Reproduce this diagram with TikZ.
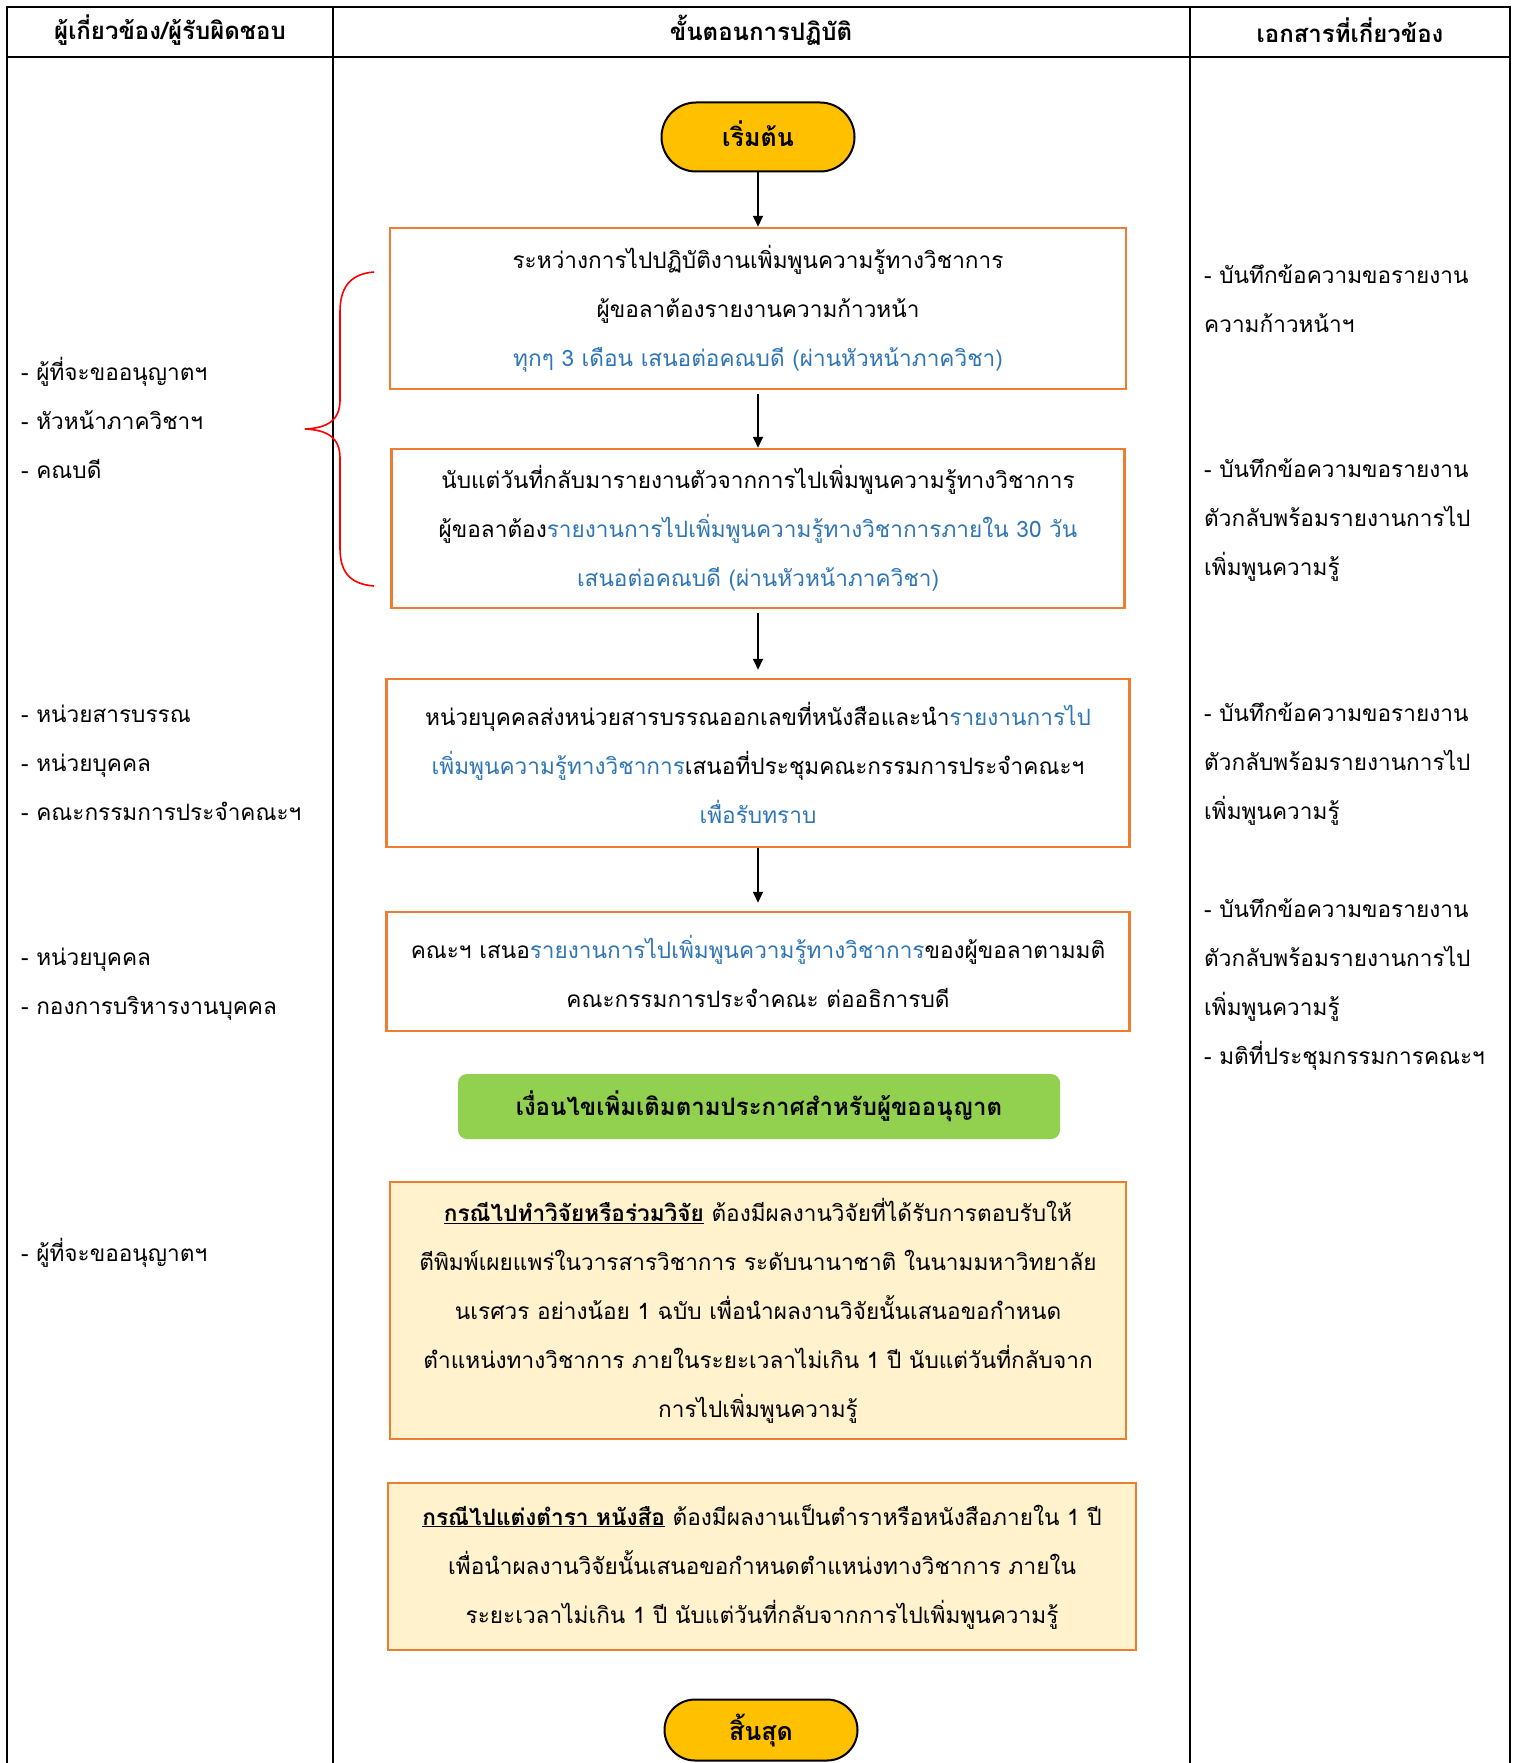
\documentclass[tikz,border=0pt]{standalone}
\usepackage{fontspec}
\newfontfamily\thai[Script=Thai]{Loma}
\usetikzlibrary{arrows.meta,shapes.misc}
\definecolor{orng}{HTML}{ED7D31}
\definecolor{cream}{HTML}{FFF2CC}
\definecolor{grn}{HTML}{92D050}
\definecolor{gold}{HTML}{FFC000}
\definecolor{blu}{HTML}{2E75B6}
\newcommand{\bl}[1]{{\color{blu}#1}}
\begin{document}
\begin{tikzpicture}[x=1pt,y=-1pt,
  txt/.style={font=\thai\fontsize{22.6}{49}\selectfont},
  hdr/.style={font=\thai\bfseries\fontsize{24}{30}\selectfont},
  stepbox/.style={draw=orng, line width=2.5pt, align=center, inner sep=0pt, txt},
  notebox/.style={stepbox, fill=cream},
  term/.style={rounded rectangle, draw=black, line width=2pt, fill=gold, inner sep=0pt, font=\thai\bfseries\fontsize{25}{30}\selectfont},
  side/.style={txt, align=left, anchor=west, inner sep=0pt},
  arr/.style={line width=1.8pt, -{Triangle[length=11pt,width=10pt]}},
  grid/.style={line width=2.4pt, black}]
\useasboundingbox (0,0) rectangle (1517,1763);
% table
\draw[grid] (7,1763) -- (7,7) -- (1510,7) -- (1510,1763);
\draw[grid] (7,57) -- (1510,57);
\draw[grid] (333,7) -- (333,1763);
\draw[grid] (1190,7) -- (1190,1763);
\node[hdr] (h1) at (170,30) {ผู้เกี่ยวข้อง/ผู้รับผิดชอบ};
\node[hdr] (h2) at (761,30) {ขั้นตอนการปฏิบัติ};
\node[hdr] (h3) at (1350,30) {เอกสารที่เกี่ยวข้อง};
% flow
\node[term, minimum width=193pt, minimum height=69pt] (start) at (758,137) {\raisebox{7pt}{เริ่มต้น}};
\node[stepbox, minimum width=736pt, minimum height=161pt] (b1) at (758,308.5)
  {ระหว่างการไปปฏิบัติงานเพิ่มพูนความรู้ทางวิชาการ\\
   ผู้ขอลาต้องรายงานความก้าวหน้า\\
   \bl{ทุกๆ 3 เดือน เสนอต่อคณบดี (ผ่านหัวหน้าภาควิชา)}};
\node[stepbox, minimum width=733pt, minimum height=159pt] (b2) at (758,528.5)
  {นับแต่วันที่กลับมารายงานตัวจากการไปเพิ่มพูนความรู้ทางวิชาการ\\
   ผู้ขอลาต้อง\bl{รายงานการไปเพิ่มพูนความรู้ทางวิชาการภายใน 30 วัน}\\
   \bl{เสนอต่อคณบดี (ผ่านหัวหน้าภาควิชา)}};
\node[stepbox, minimum width=743pt, minimum height=168pt] (b3) at (758,763)
  {หน่วยบุคคลส่งหน่วยสารบรรณออกเลขที่หนังสือและนำ\bl{รายงานการไป}\\
   \bl{เพิ่มพูนความรู้ทางวิชาการ}เสนอที่ประชุมคณะกรรมการประจำคณะฯ\\
   \bl{เพื่อรับทราบ}};
\node[stepbox, minimum width=743pt, minimum height=119pt] (b4) at (758,971.5)
  {คณะฯ เสนอ\bl{รายงานการไปเพิ่มพูนความรู้ทางวิชาการ}ของผู้ขอลาตามมติ\\
   คณะกรรมการประจำคณะ ต่ออธิการบดี};
\node[fill=grn, rounded corners=9pt, minimum width=602pt, minimum height=65pt, inner sep=0pt,
  font=\thai\bfseries\fontsize{24}{30}\selectfont] (g) at (759,1106.5)
  {เงื่อนไขเพิ่มเติมตามประกาศสำหรับผู้ขออนุญาต};
\node[notebox, minimum width=736pt, minimum height=257pt] (b5) at (758,1310.5)
  {\underline{\textbf{กรณีไปทำวิจัยหรือร่วมวิจัย}} ต้องมีผลงานวิจัยที่ได้รับการตอบรับให้\\
   ตีพิมพ์เผยแพร่ในวารสารวิชาการ ระดับนานาชาติ ในนามมหาวิทยาลัย\\
   นเรศวร อย่างน้อย 1 ฉบับ เพื่อนำผลงานวิจัยนั้นเสนอขอกำหนด\\
   ตำแหน่งทางวิชาการ ภายในระยะเวลาไม่เกิน 1 ปี นับแต่วันที่กลับจาก\\
   การไปเพิ่มพูนความรู้};
\node[notebox, minimum width=748pt, minimum height=167pt] (b6) at (762,1566.5)
  {\underline{\textbf{กรณีไปแต่งตำรา หนังสือ}} ต้องมีผลงานเป็นตำราหรือหนังสือภายใน 1 ปี\\
   เพื่อนำผลงานวิจัยนั้นเสนอขอกำหนดตำแหน่งทางวิชาการ ภายใน\\
   ระยะเวลาไม่เกิน 1 ปี นับแต่วันที่กลับจากการไปเพิ่มพูนความรู้};
\node[term, minimum width=193pt, minimum height=61pt] (end) at (761,1730) {สิ้นสุด};
% arrows
\draw[arr] (start.south) -- (b1.north);
\draw[arr] ([yshift=-4pt]b1.south) -- (b2.north);
\draw[arr] ([yshift=-4pt]b2.south) -- ([yshift=8pt]b3.north);
\draw[arr] (b3.south) -- ([yshift=8pt]b4.north);
% left column
\node[side] (l1) at (21,418) {- ผู้ที่จะขออนุญาตฯ\\- หัวหน้าภาควิชาฯ\\- คณบดี};
\node[side] (l2) at (21,763) {- หน่วยสารบรรณ\\- หน่วยบุคคล\\- คณะกรรมการประจำคณะฯ};
\node[side] (l3) at (21,984) {- หน่วยบุคคล\\- กองการบริหารงานบุคคล};
\node[side] (l4) at (21,1253) {- ผู้ที่จะขออนุญาตฯ};
% right column
\node[side] (r1) at (1204,299) {- บันทึกข้อความขอรายงาน\\ความก้าวหน้าฯ};
\node[side] (r2) at (1204,520) {- บันทึกข้อความขอรายงาน\\ตัวกลับพร้อมรายงานการไป\\เพิ่มพูนความรู้};
\node[side] (r3) at (1204,764) {- บันทึกข้อความขอรายงาน\\ตัวกลับพร้อมรายงานการไป\\เพิ่มพูนความรู้};
\node[side] (r4) at (1204,984) {- บันทึกข้อความขอรายงาน\\ตัวกลับพร้อมรายงานการไป\\เพิ่มพูนความรู้\\- มติที่ประชุมกรรมการคณะฯ};
% brace
\draw[red, line width=1.6pt] (374,272) .. controls (348,274) and (340,290) .. (340,312)
  -- (340,400) .. controls (340,420) and (328,428) .. (305,429)
  .. controls (328,430) and (340,438) .. (340,458)
  -- (340,548) .. controls (340,570) and (348,584) .. (374,586);
\end{tikzpicture}
\end{document}
